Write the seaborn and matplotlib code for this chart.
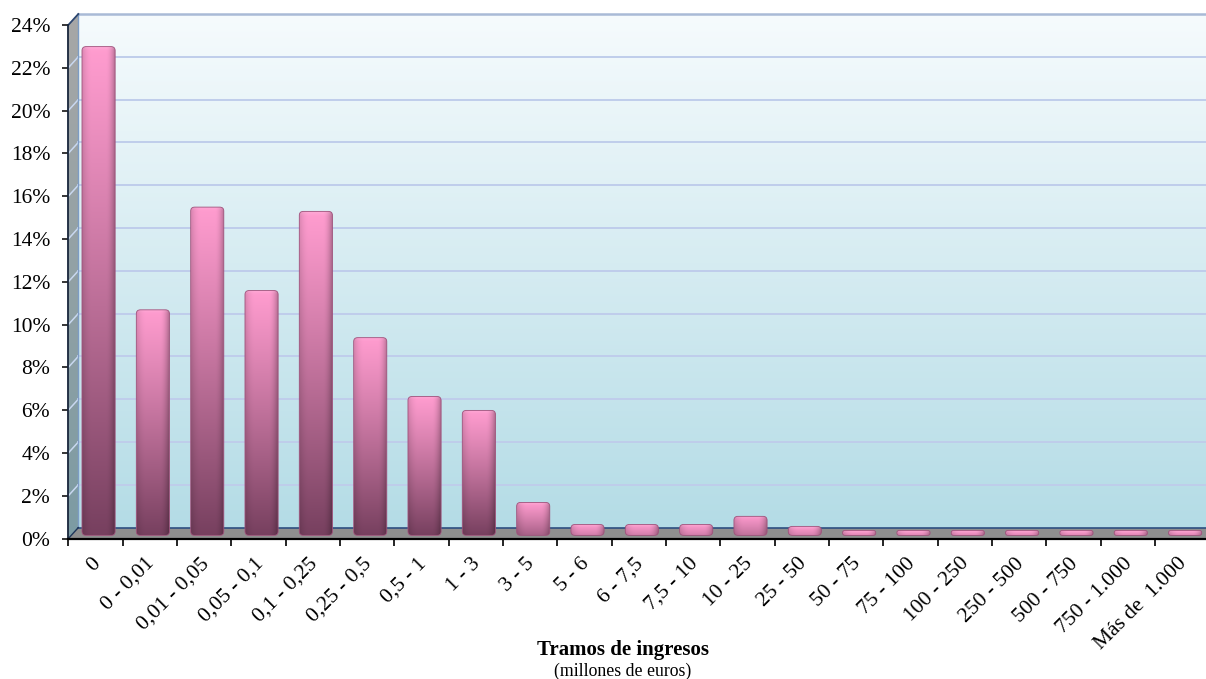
import numpy as np
import pandas as pd
import matplotlib
matplotlib.use("Agg")
import matplotlib.pyplot as plt
import seaborn as sns
from matplotlib.patches import Polygon, FancyBboxPatch
from matplotlib.colors import to_rgb
from matplotlib.transforms import ScaledTranslation

# ---- data -------------------------------------------------------------
tramos = ["0", "0 - 0,01", "0,01 - 0,05", "0,05 - 0,1", "0,1 - 0,25",
          "0,25 - 0,5", "0,5 - 1", "1 - 3", "3 - 5", "5 - 6", "6 - 7,5",
          "7,5 - 10", "10 - 25", "25 - 50", "50 - 75", "75 - 100",
          "100 - 250", "250 - 500", "500 - 750", "750 - 1.000",
          "Más de  1.000"]
porcentaje = [22.7, 10.4, 15.2, 11.3, 15.0, 9.1, 6.35, 5.7, 1.4, 0.37,
              0.37, 0.37, 0.75, 0.28, 0.04, 0.03, 0.05, 0.02, 0.02, 0.02,
              0.02]
y_ticks = list(range(0, 25, 2))
titulo = "Tramos de ingresos"
subtitulo = "(millones de euros)"

plt.rcParams["font.family"] = ["Liberation Serif", "DejaVu Serif"]

# ---- layout (pixel geometry of the pseudo-3D box) ----------------------
W, H = 1206, 679
x_left, x_right = 68.3, 1209.2
y_zero = 538.6
px_cat = (x_right - x_left) / len(tramos)
px_pct = 21.4
dx = 10 / px_cat          # depth offset, category units
dy = 11 / px_pct          # depth offset, percent units
y_top_px = y_zero - (24 + dy) * px_pct

fig = plt.figure(figsize=(W / 100, H / 100), dpi=100)
fig.patch.set_facecolor("white")
ax = fig.add_axes([x_left / W, (H - y_zero) / H,
                   (x_right - x_left) / W, (y_zero - y_top_px) / H])

df = pd.DataFrame({"tramo": tramos, "pct": porcentaje})
sns.barplot(data=df, x="tramo", y="pct", order=tramos, color="#ff99cc",
            width=0.61, ax=ax, zorder=3)
bars = list(ax.patches)

x_lo, x_hi = -0.5, len(tramos) - 0.5
ax.set_xlim(x_lo, x_hi)
ax.set_ylim(0, 24 + dy)
ax.patch.set_visible(False)
for s in ax.spines.values():
    s.set_visible(False)
ax.set_xlabel("")
ax.set_ylabel("")


def vertical_gradient(c_top, c_bot, n=256):
    t = np.linspace(0, 1, n)[:, None, None]
    top = np.array(to_rgb(c_top))[None, None, :]
    bot = np.array(to_rgb(c_bot))[None, None, :]
    return bot * (1 - t) + top * t


# back wall
wall = vertical_gradient("#f6fbfd", "#b4dce6")
ax.imshow(wall, extent=(x_lo + dx, x_hi + 1, dy, 24 + dy), origin="lower",
          aspect="auto", zorder=0, interpolation="bilinear")

# left side wall
side_poly = Polygon([(x_lo, 0), (x_lo, 24), (x_lo + dx, 24 + dy),
                     (x_lo + dx, dy)], closed=True, transform=ax.transData)
side = vertical_gradient("#a7a7a7", "#7c9ba3")
im_side = ax.imshow(side, extent=(x_lo, x_lo + dx, 0, 24 + dy),
                    origin="lower", aspect="auto", zorder=0.5,
                    interpolation="bilinear")
im_side.set_clip_path(side_poly)

# gridlines on back wall and side wall
for v in y_ticks[1:-1]:
    ax.plot([x_lo + dx, x_hi + 1], [v + dy, v + dy], color="#bfcdeb",
            lw=1.4, zorder=1)
    ax.plot([x_lo, x_lo + dx], [v, v + dy], color="#c9d8f0", lw=1.1,
            zorder=1)
ax.plot([x_lo + dx, x_hi + 1], [24 + dy, 24 + dy], color="#a9bad6",
        lw=1.8, zorder=1, clip_on=False)
ax.plot([x_lo + dx, x_lo + dx], [dy, 24 + dy], color="#7d9cc4", lw=1.0,
        zorder=1.2)

# floor
floor = Polygon([(x_lo, 0), (x_hi + 1, 0), (x_hi + 1, dy), (x_lo + dx, dy)],
                closed=True, facecolor="#8f8f8f", edgecolor="none", zorder=2)
ax.add_patch(floor)
ax.plot([x_lo + dx, x_hi + 1], [dy, dy], color="#2d4f80", lw=1.2, zorder=2.1)
ax.plot([x_lo, x_lo + dx], [0, dy], color="#1e3558", lw=1.0, zorder=2.1)
ax.plot([x_lo, x_lo + dx], [24, 24 + dy], color="#2c4670", lw=1.3,
        zorder=2.1, clip_on=False)

# bars: gradient fill clipped to rounded boxes at the positions seaborn set
pink = np.array(to_rgb("#ff9ccf"))
dark = np.array(to_rgb("#77405f"))
base = 0.15
cap = 3 / px_pct
aspect = px_cat / px_pct
for p in bars:
    v = p.get_height()
    x0 = p.get_x() + 0.057
    w = p.get_width()
    h = max(v + cap, 5 / px_pct)
    h_px = h * px_pct
    r_px = min(4.0, h_px / 2 - 0.3)
    box = FancyBboxPatch((x0, base), w, h,
                         boxstyle=f"round,pad=0,rounding_size={r_px / px_cat}",
                         mutation_aspect=aspect, facecolor="none",
                         edgecolor="#a0527c", lw=0.6, zorder=4)
    ax.add_patch(box)
    nv, nh = 160, 48
    t = np.linspace(0, 1, nv)[:, None]
    u = np.linspace(0, 1, nh)[None, :]
    strength = min(1.0, h_px / 70) ** 0.6
    wgt = strength * (1 - t) ** 1.1
    col = pink[None, None, :] * (1 - wgt[..., None]) + dark[None, None, :] * wgt[..., None]
    shade = np.ones_like(u)
    shade = np.where(u < 0.3, 1 - 0.14 * (1 - u / 0.3) ** 2, shade)
    shade = np.where(u > 0.7, 1 - 0.32 * ((u - 0.7) / 0.3) ** 2, shade)
    col = col * shade[..., None]
    d_px = (1 - t) * h_px
    glow = np.clip(1 - d_px / 3.5, 0, 1) * 0.12
    col = col + (1 - col) * glow[..., None]
    col = np.clip(np.broadcast_to(col, (nv, nh, 3)), 0, 1)
    im = ax.imshow(col, extent=(x0, x0 + w, base, base + h), origin="lower",
                   aspect="auto", zorder=3.5, interpolation="bilinear")
    im.set_clip_path(box)
    p.remove()

ax.set_xlim(x_lo, x_hi)
ax.set_ylim(0, 24 + dy)

# axis lines
ax.plot([x_lo, x_lo], [0, 24], color="#16243a", lw=1.3, zorder=5,
        clip_on=False)
ax.plot([x_lo, x_hi + 1], [0, 0], color="black", lw=1.6, zorder=5,
        clip_on=False)

# ticks and labels
ax.set_yticks(y_ticks)
ax.set_yticklabels([f"{v}%" for v in y_ticks])
ax.tick_params(axis="y", which="major", direction="out", length=4,
               width=1.1, color="black", pad=9, labelsize=15.5)
ax.set_xticks(range(len(tramos)))
ax.set_xticklabels(tramos, rotation=45, ha="right", va="center",
                   rotation_mode="anchor")
ax.set_xticks(np.arange(x_lo, x_hi + 0.01, 1), minor=True)
ax.tick_params(axis="x", which="major", length=0, pad=16, labelsize=15.5)
ax.tick_params(axis="x", which="minor", direction="out", length=5,
               width=1.2, color="black")
shift = ScaledTranslation(2 / 100, 0, fig.dpi_scale_trans)
for lbl in ax.get_xticklabels():
    lbl.set_transform(lbl.get_transform() + shift)

fig.text(623 / W, 1 - 650 / H, titulo, ha="center", va="center",
         fontsize=15, fontweight="bold")
fig.text(623 / W, 1 - 671 / H, subtitulo, ha="center", va="center",
         fontsize=12.8)

fig.savefig("out.png", dpi=100, facecolor="white")
